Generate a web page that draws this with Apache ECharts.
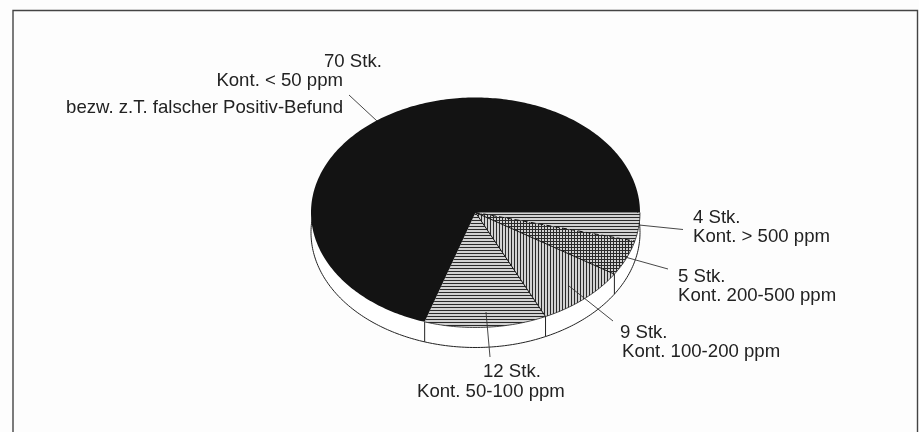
<!DOCTYPE html>
<html><head><meta charset="utf-8">
<style>html,body{margin:0;padding:0;background:#fdfdfd}#c{width:919px;height:432px}</style>
<script src="https://cdn.jsdelivr.net/npm/echarts@6/dist/echarts.min.js"></script>
</head><body><div id="c"></div>
<script>
// data, clockwise from 3 o'clock
const counts = [4, 5, 9, 12, 70];
const labelCounts = ['4 Stk.', '5 Stk.', '9 Stk.', '12 Stk.', '70 Stk.'];
const labelRanges = ['Kont. > 500 ppm', 'Kont. 200-500 ppm', 'Kont. 100-200 ppm', 'Kont. 50-100 ppm', 'Kont. < 50 ppm'];
const labelNote = 'bezw. z.T. falscher Positiv-Befund';
const hatches = ['h', 'x', 'v', 'h', 'solid'];

// layout
const CX = 475.5, CY = 212.5, RX = 164.5, RY = 115, DEPTH = 20, INK = '#131313';
const total = counts.reduce((a, b) => a + b, 0);
function angles(i) {
  let s = 0;
  for (let k = 0; k < i; k++) s += counts[k];
  return [s / total * Math.PI * 2, (s + counts[i]) / total * Math.PI * 2];
}
function pt(t, dy) { return [CX + RX * Math.cos(t), CY + dy + RY * Math.sin(t)]; }
function arc(a, b, dy) {
  const n = Math.max(8, Math.ceil((b - a) * 60)), out = [];
  for (let k = 0; k <= n; k++) out.push(pt(a + (b - a) * k / n, dy));
  return out;
}
function pattern(kind) {
  const c = document.createElement('canvas');
  c.width = 3; c.height = 3;
  const g = c.getContext('2d');
  g.fillStyle = '#d2d2d2'; g.fillRect(0, 0, 3, 3);
  g.fillStyle = '#2a2a2a';
  if (kind === 'h' || kind === 'x') g.fillRect(0, 1, 3, 1);
  if (kind === 'v' || kind === 'x') g.fillRect(1, 0, 1, 3);
  return { image: c, repeat: 'repeat' };
}
const fills = hatches.map(k => k === 'solid' ? INK : pattern(k));

const chart = echarts.init(document.getElementById('c'), null, { renderer: 'canvas' });
const textStyle = (text, x, y, align) => ({
  type: 'text', x, y, silent: true, z: 20,
  style: { text, fill: '#222', font: '18.6px "Liberation Sans"', align: align || 'left', verticalAlign: 'middle' }
});
const leader = (x1, y1, x2, y2) => ({
  type: 'line', silent: true, z: 15,
  shape: { x1, y1, x2, y2 }, style: { stroke: '#333', lineWidth: 0.9 }
});

chart.setOption({
  animation: false,
  backgroundColor: '#fdfdfd',
  series: [
    { // the wall under the disc
      type: 'custom', coordinateSystem: 'none', z: 2,
      data: counts,
      renderItem(params) {
        const i = params.dataIndex, [a, b] = angles(i);
        const kids = [
          { type: 'polygon', shape: { points: [[CX, CY + DEPTH]].concat(arc(a, b, DEPTH)) }, style: { fill: '#fff' } },
          { type: 'polyline', shape: { points: arc(a, b, DEPTH) }, style: { stroke: '#222', lineWidth: 1, fill: null } }
        ];
        if (i > 1) {
          kids.push({ type: 'line', shape: { x1: pt(a, 0)[0], y1: pt(a, 0)[1], x2: pt(a, DEPTH)[0], y2: pt(a, DEPTH)[1] }, style: { stroke: '#222', lineWidth: 1 } });
        }
        return { type: 'group', children: kids };
      }
    },
    { // the top of the disc
      type: 'custom', coordinateSystem: 'none', z: 3,
      data: counts,
      renderItem(params) {
        const i = params.dataIndex, [a, b] = angles(i);
        return { type: 'polygon', shape: { points: [[CX, CY]].concat(arc(a, b, 0)) }, style: { fill: fills[i] } };
      }
    },
    { // slice edges over the hatching
      type: 'custom', coordinateSystem: 'none', z: 4,
      data: counts,
      renderItem(params) {
        const i = params.dataIndex, [a, b] = angles(i);
        if (i > 3) return { type: 'group', children: [] };
        const kids = [{ type: 'polyline', shape: { points: arc(a, b, 0) }, style: { stroke: '#222', lineWidth: 0.8, fill: null } }];
        if (i < 3) {
          const e = pt(b, 0);
          kids.push({ type: 'line', shape: { x1: CX, y1: CY, x2: e[0], y2: e[1] },
            style: { stroke: '#111', lineWidth: 1, lineDash: i === 0 ? [5, 3] : null } });
        }
        return { type: 'group', children: kids };
      }
    }
  ],
  graphic: { elements: [
    { type: 'polyline', silent: true, z: 10, shape: { points: [[13, 440], [13, 10.5], [917.5, 10.5], [917.5, 440]] }, style: { stroke: '#444', lineWidth: 1.4, fill: null } },
    textStyle(labelCounts[4], 324, 62),
    textStyle(labelRanges[4], 343, 81, 'right'),
    textStyle(labelNote, 343, 108, 'right'),
    textStyle(labelCounts[0], 693, 218),
    textStyle(labelRanges[0], 693, 237),
    textStyle(labelCounts[1], 678, 277),
    textStyle(labelRanges[1], 678, 296),
    textStyle(labelCounts[2], 620, 333),
    textStyle(labelRanges[2], 622, 352),
    textStyle(labelCounts[3], 483, 372),
    textStyle(labelRanges[3], 417, 392),
    leader(349, 95, 377, 121),
    leader(639, 225, 683, 229.5),
    leader(625, 257, 668, 269),
    leader(569, 286, 613, 321),
    leader(486, 312, 490, 357)
  ] }
});
</script></body></html>
